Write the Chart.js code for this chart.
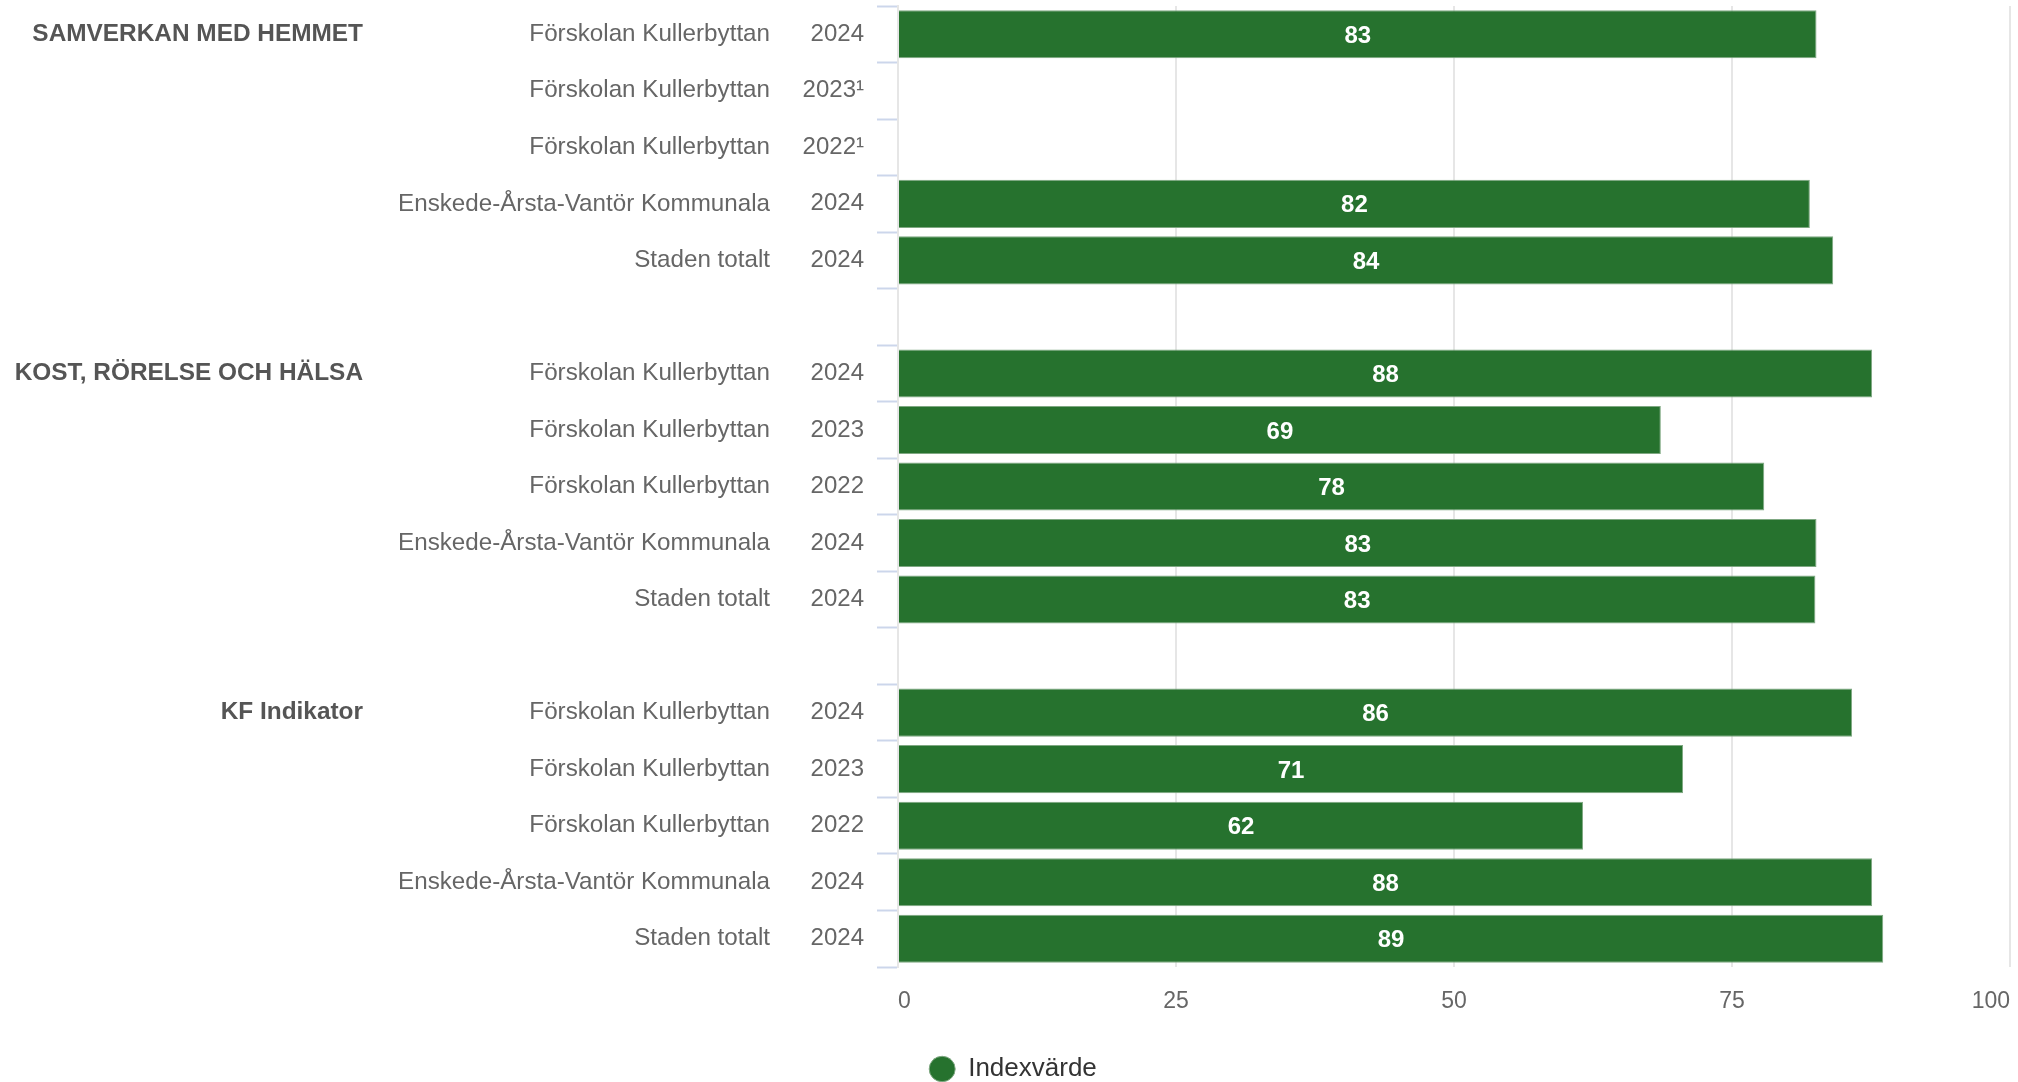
<!DOCTYPE html>
<html lang="sv">
<head>
<meta charset="utf-8">
<title>Indexvärde</title>
<script src="https://cdn.jsdelivr.net/npm/chart.js@4/dist/chart.umd.min.js"></script>
<style>
  html, body { margin: 0; padding: 0; background: #ffffff; overflow: hidden; }
  #wrap { position: relative; width: 2018px; height: 1092px; }
</style>
</head>
<body>
<div id="wrap"><canvas id="chart-index"></canvas></div>
<script>
/* ── Données ───────────────────────────────────────────────── */
// une ligne vide sépare chaque groupe
const groupLabels = [
  'SAMVERKAN MED HEMMET', '', '', '', '', '',
  'KOST, RÖRELSE OCH HÄLSA', '', '', '', '', '',
  'KF Indikator', '', '', '', ''
];
const unitLabels = [
  'Förskolan Kullerbyttan', 'Förskolan Kullerbyttan', 'Förskolan Kullerbyttan',
  'Enskede-Årsta-Vantör Kommunala', 'Staden totalt', '',
  'Förskolan Kullerbyttan', 'Förskolan Kullerbyttan', 'Förskolan Kullerbyttan',
  'Enskede-Årsta-Vantör Kommunala', 'Staden totalt', '',
  'Förskolan Kullerbyttan', 'Förskolan Kullerbyttan', 'Förskolan Kullerbyttan',
  'Enskede-Årsta-Vantör Kommunala', 'Staden totalt'
];
const yearLabels = [
  '2024', '2023¹', '2022¹', '2024', '2024', '',
  '2024', '2023', '2022', '2024', '2024', '',
  '2024', '2023', '2022', '2024', '2024'
];
const indexValues = [
  82.6, null, null, 82.0, 84.1, null,
  87.6, 68.6, 77.9, 82.6, 82.5, null,
  85.8, 70.6, 61.6, 87.6, 88.6
];
const xTicks = [0, 25, 50, 75, 100];

/* ── Style ─────────────────────────────────────────────────── */
const FONT   = "'Liberation Sans', Arial, sans-serif";
const VERT   = '#26722e';
const GRIS   = '#666666';

Chart.defaults.font.family = FONT;
Chart.defaults.color       = GRIS;

/* étiquettes blanches au centre des barres */
const etiquettesBarres = {
  id: 'etiquettesBarres',
  afterDatasetsDraw(chart) {
    const ctx  = chart.ctx;
    const meta = chart.getDatasetMeta(0);
    ctx.save();
    ctx.font         = `bold 24px ${FONT}`;
    ctx.fillStyle    = '#ffffff';
    ctx.textAlign    = 'center';
    ctx.textBaseline = 'middle';
    meta.data.forEach((bar, i) => {
      const v = indexValues[i];
      if (v === null) return;
      const p = bar.getCenterPoint();
      ctx.fillText(String(Math.round(v)), p.x, p.y + 2);
    });
    ctx.restore();
  }
};

/* largeur fixe des colonnes d'étiquettes à gauche */
const largeur = w => scale => {
  scale.width = w;
  scale.paddingTop = 0;
  scale.paddingBottom = 0;
};

new Chart(document.getElementById('chart-index'), {
  type: 'bar',
  data: {
    labels: yearLabels,
    datasets: [{
      label          : 'Indexvärde',
      data           : indexValues,
      backgroundColor: VERT,
      borderColor    : '#7fa882',
      borderWidth    : 1,
      categoryPercentage: 1,
      barPercentage  : 0.85,
      yAxisID        : 'y',
    }]
  },
  options: {
    indexAxis          : 'y',
    responsive         : true,
    maintainAspectRatio: false,
    animation          : false,
    layout: { padding: { top: 6, right: 8, left: 16, bottom: 0 } },
    plugins: {
      tooltip: { enabled: false },
      legend: {
        position: 'bottom',
        labels: {
          usePointStyle : true,
          pointStyle    : 'circle',
          pointStyleWidth: 26,
          boxHeight     : 18,
          padding       : 40,
          color         : '#333333',
          font          : { size: 26 },
        }
      }
    },
    scales: {
      x: {
        min: 0, max: 100,
        afterBuildTicks: s => { s.ticks = xTicks.map(v => ({ value: v })); },
        afterFit: s => { s.height = 49; s.paddingLeft = 0; s.paddingRight = 0; },
        grid  : { color: '#e6e6e6', lineWidth: 2, drawTicks: false },
        border: { display: false },
        ticks : { padding: 21, align: 'inner', color: GRIS, font: { size: 23 } },
      },
      y: {
        type  : 'category',
        position: 'left',
        weight: 0,
        offset: true,
        afterFit: largeur(118),
        grid  : { offset: true, drawOnChartArea: false, drawTicks: true,
                  tickLength: 21, tickColor: '#ccd6eb', tickWidth: 2 },
        border: { color: '#e6e6e6', width: 2 },
        ticks : { autoSkip: false, padding: 13, color: GRIS, font: { size: 24 } },
      },
      yUnit: {
        type  : 'category',
        labels: unitLabels,
        position: 'left',
        weight: 1,
        offset: true,
        afterFit: largeur(380),
        grid  : { display: false, drawTicks: false },
        border: { display: false },
        ticks : { autoSkip: false, padding: 10, color: GRIS, font: { size: 24.2 } },
      },
      yGroup: {
        type  : 'category',
        labels: groupLabels,
        position: 'left',
        weight: 2,
        offset: true,
        afterFit: largeur(384),
        grid  : { display: false, drawTicks: false },
        border: { display: false },
        ticks : { autoSkip: false, padding: 37, color: '#555555',
                  font: { size: 24.4, weight: 'bold' } },
      },
    }
  },
  plugins: [etiquettesBarres]
});
</script>
</body>
</html>
